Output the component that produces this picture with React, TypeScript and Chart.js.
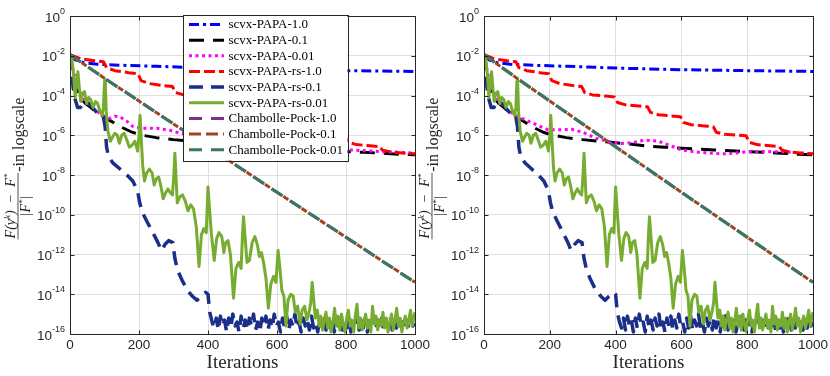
import React, { useEffect, useRef } from 'react';
import { Chart, registerables } from 'chart.js';

Chart.register(...registerables);

// ---------------- axes ----------------
const xMinIter = 0;
const xMaxIter = 1000;
const xTickStep = 200;
const yExponents = [-16, -14, -12, -10, -8, -6, -4, -2, 0];
const xTitle = 'Iterations';
const yTitleTail = '-in logscale';

// ---------------- series labels ----------------
const seriesLabels = [
  'scvx-PAPA-1.0',
  'scvx-PAPA-0.1',
  'scvx-PAPA-0.01',
  'scvx-PAPA-rs-1.0',
  'scvx-PAPA-rs-0.1',
  'scvx-PAPA-rs-0.01',
  'Chambolle-Pock-1.0',
  'Chambolle-Pock-0.1',
  'Chambolle-Pock-0.01',
];

// ---------------- data: [iteration, log10(relative error)] ----------------
const papa1: [number, number][] = [
  [0, -1.95], [15, -2.2], [40, -2.35], [80, -2.43], [150, -2.48], [250, -2.53],
  [400, -2.62], [600, -2.7], [800, -2.75], [1000, -2.79],
];

const papa01: [number, number][] = [
  [0, -1.95], [8, -2.8], [18, -3.6], [30, -4.1], [45, -4.4], [60, -4.6], [80, -4.9],
  [100, -5.1], [120, -5.3], [150, -5.6], [180, -5.85], [210, -6.0], [250, -6.12],
  [300, -6.22], [350, -6.3], [400, -6.38], [450, -6.45], [500, -6.55], [550, -6.6],
  [600, -6.65], [650, -6.7], [700, -6.74], [750, -6.78], [800, -6.82], [850, -6.86],
  [900, -6.9], [950, -6.95], [1000, -6.98],
];

const papa001Left: [number, number][] = [
  [0, -1.95], [10, -2.8], [25, -3.7], [45, -4.3], [70, -4.7], [95, -5.0], [116, -5.15],
  [130, -5.05], [145, -5.07], [165, -5.3], [183, -5.57], [210, -5.65], [252, -5.65],
  [290, -5.75], [319, -5.9], [360, -6.0], [420, -6.1], [480, -6.2], [540, -6.3],
  [600, -6.45], [660, -6.6], [720, -6.7], [812, -6.74], [860, -6.78], [907, -6.83],
  [950, -6.85], [1000, -6.9],
];

const papa001Right: [number, number][] = [
  [0, -1.95], [10, -2.8], [25, -3.7], [45, -4.3], [70, -4.7], [95, -5.0], [115, -5.15],
  [150, -5.4], [195, -5.73], [235, -5.72], [266, -5.7], [300, -5.85], [340, -6.15],
  [378, -6.32], [420, -6.41], [449, -6.38], [490, -6.24], [530, -6.3], [570, -6.55],
  [601, -6.74], [650, -6.85], [722, -6.94], [760, -6.9], [803, -6.83], [850, -6.82],
  [904, -6.83], [950, -6.88], [995, -6.94],
];

const rs1: [number, number][] = [
  [0, -1.95], [30, -2.15], [70, -2.25], [97, -2.3], [106, -2.6], [130, -2.75], [170, -2.85],
  [197, -2.9], [206, -3.25], [230, -3.4], [270, -3.5], [297, -3.55], [306, -3.85],
  [330, -3.97], [370, -4.03], [397, -4.07], [406, -4.35], [430, -4.47], [470, -4.53],
  [497, -4.57], [506, -4.85], [530, -4.97], [570, -5.03], [597, -5.07], [606, -5.35],
  [630, -5.47], [670, -5.53], [697, -5.57], [706, -5.85], [730, -5.95], [770, -6.0],
  [797, -6.03], [806, -6.35], [830, -6.47], [870, -6.53], [897, -6.57], [906, -6.75],
  [930, -6.84], [970, -6.9], [1000, -6.93],
];

const rs01Head: [number, number][] = [
  [0, -1.95], [4, -2.5], [9, -3.6], [15, -4.2], [22, -4.6], [30, -4.6], [38, -4.4],
  [46, -4.3], [55, -4.4], [65, -4.6], [75, -4.8], [87, -5.0], [97, -5.1], [102, -5.6],
  [106, -6.6], [112, -7.1], [125, -7.4], [145, -7.7], [165, -8.0], [182, -8.3],
  [196, -8.8], [202, -9.4], [210, -9.9], [225, -10.4], [240, -10.9], [255, -11.4],
  [265, -11.8], [275, -11.5], [286, -11.3], [298, -11.4], [304, -12.2], [312, -12.8],
  [325, -13.3], [340, -13.8], [355, -14.1], [368, -14.3], [380, -14.1], [393, -13.9],
  [400, -14.0], [405, -14.9], [412, -15.4],
];

const rs01Tail: [number, number][] = [
  [418, -15.7], [424, -15.2], [430, -15.8], [436, -15.1], [442, -15.6], [448, -15.3],
  [454, -15.9], [460, -15.2], [466, -15.7], [472, -15.0], [478, -15.6], [484, -15.4],
  [490, -15.9], [496, -15.1], [502, -15.7], [508, -15.3], [514, -15.8], [520, -15.2],
  [526, -15.6], [532, -15.0], [538, -15.8], [544, -15.4], [550, -15.9], [556, -15.2],
  [562, -15.6], [568, -15.1], [574, -15.8], [580, -15.3], [586, -15.7], [592, -15.0],
  [598, -15.6], [604, -15.4], [610, -15.9], [616, -15.2], [622, -15.7], [628, -15.1],
  [634, -15.8], [640, -15.3], [646, -15.6], [652, -15.0], [658, -15.7], [664, -15.4],
  [670, -15.9], [676, -15.2], [682, -15.6], [688, -15.3], [694, -15.8], [700, -15.1],
  [706, -15.7], [712, -15.4], [718, -15.9], [724, -15.2], [730, -15.6], [736, -15.0],
  [742, -15.8], [748, -15.3], [754, -15.7], [760, -15.2], [766, -15.9], [772, -15.4],
  [778, -15.6], [784, -15.1], [790, -15.8], [796, -15.3], [802, -15.7], [808, -15.2],
  [814, -15.9], [820, -15.4], [826, -15.6], [832, -15.0], [838, -15.8], [844, -15.3],
  [850, -15.7], [856, -15.2], [862, -15.9], [868, -15.4], [874, -15.6], [880, -15.1],
  [886, -15.8], [892, -15.3], [898, -15.7], [904, -15.2], [910, -15.9], [916, -15.4],
  [922, -15.6], [928, -15.1], [934, -15.8], [940, -15.3], [946, -15.7], [952, -15.2],
  [958, -15.6], [964, -15.4], [970, -15.8], [976, -15.3], [982, -15.7], [988, -15.2],
  [994, -15.6], [1000, -15.4],
];

const rs001Head: [number, number][] = [
  [0, -1.95], [6, -2.2], [11, -3.1], [15, -4.1], [19, -3.3], [23, -2.8], [27, -3.6],
  [31, -4.3], [36, -3.9], [42, -3.8], [48, -4.4], [54, -4.1], [60, -4.2], [67, -4.6],
  [74, -4.3], [80, -4.4], [87, -4.8], [93, -5.0], [97, -4.6], [100, -3.3], [102, -3.2],
  [105, -4.8], [110, -5.8], [117, -6.3], [123, -6.1], [130, -5.9], [137, -6.0],
  [143, -6.4], [150, -6.0], [157, -5.9], [164, -6.2], [172, -6.6], [180, -6.5],
  [188, -6.3], [196, -6.8], [200, -6.0], [203, -5.0], [206, -6.0], [211, -7.6],
  [216, -8.3], [222, -7.9], [230, -7.7], [238, -7.9], [244, -8.5], [250, -8.2],
  [257, -8.1], [264, -8.6], [270, -9.2], [277, -8.9], [284, -8.7], [291, -8.9],
  [297, -9.0], [301, -8.0], [304, -6.9], [307, -8.0], [311, -9.4], [318, -9.1],
  [326, -9.0], [334, -9.3], [342, -9.8], [350, -9.5], [358, -9.7], [366, -10.6],
  [374, -12.6], [381, -11.0], [388, -10.7], [395, -10.9], [400, -8.6], [404, -9.6],
  [410, -11.0], [418, -12.3], [425, -11.2], [432, -10.9], [440, -11.1], [446, -11.9],
  [451, -11.4], [458, -11.3], [465, -12.0], [474, -14.2], [481, -12.7], [489, -12.4],
  [496, -12.7], [500, -11.0], [503, -10.1], [507, -11.0], [513, -12.4], [520, -12.3],
  [528, -11.4], [536, -11.1], [543, -11.5], [549, -12.1], [555, -11.9], [561, -12.4],
  [568, -13.2], [575, -14.7], [582, -13.5], [590, -13.1], [597, -13.4], [603, -11.8],
  [608, -12.6], [614, -13.8], [620, -14.1], [626, -15.6], [632, -14.3], [640, -14.0],
  [647, -14.1], [653, -14.9], [660, -14.6], [667, -15.5], [673, -14.8], [680, -14.6],
  [687, -15.3], [693, -14.9], [698, -14.4], [702, -13.4], [706, -14.2], [711, -15.2],
  [717, -14.8],
];

const rs001Tail: [number, number][] = [
  [722, -15.6], [727, -15.1], [732, -15.8], [737, -15.3], [742, -14.9], [747, -15.7],
  [752, -15.2], [757, -15.9], [762, -15.4], [767, -14.7], [772, -15.6], [777, -15.1],
  [782, -15.8], [787, -15.0], [792, -15.5], [797, -15.9], [802, -15.2], [807, -14.8],
  [812, -15.6], [817, -15.3], [822, -15.9], [827, -15.1], [832, -14.5], [837, -15.7],
  [842, -15.2], [847, -15.8], [852, -15.4], [857, -15.0], [862, -15.7], [867, -15.3],
  [872, -15.9], [877, -14.6], [882, -15.5], [887, -15.1], [892, -15.8], [897, -15.3],
  [902, -15.6], [907, -14.9], [912, -15.7], [917, -15.2], [922, -15.9], [927, -15.4],
  [932, -15.0], [937, -15.8], [942, -15.3], [947, -14.7], [952, -15.6], [957, -15.2],
  [962, -15.9], [967, -15.4], [972, -15.1], [977, -15.7], [982, -15.3], [987, -14.8],
  [992, -15.6], [996, -15.2], [1000, -14.9],
];

const chambollePock: [number, number][] = [
  [0, -1.95], [100, -3.13], [200, -4.28], [300, -5.43], [400, -6.58], [500, -7.72],
  [600, -8.87], [700, -10.0], [800, -11.13], [900, -12.27], [1000, -13.4],
];

// ---------------- styles ----------------
const seriesColors = ['#0000ff', '#000000', '#ff00ff', '#ff0000', '#1a2e8a', '#77ac30', '#7e2f8e', '#a0461c', '#3b7a58'];
const seriesWidths = [3, 3, 3, 3, 3.5, 3, 3, 3, 3];
const seriesDashes = [[10, 4, 3, 4], [15, 9], [3, 3.5], [11, 4], [14, 8], [], [13, 9], [6, 16], [13, 9]];
const seriesDashOffsets = [0, 0, 0, 0, 0, 0, 0, 8, 0];
const legendDashes = [[10, 4, 3, 4], [15, 9], [3, 3.5], [11, 4], [14, 8], [], [13, 9], [12, 5], [13, 9]];

const axisColor = '#262626';
const gridColor = '#dfdfdf';
const sansFamily = '"Liberation Sans", Arial, Helvetica, sans-serif';
const serifFamily = '"Liberation Serif", "Times New Roman", serif';

function drawYTickLabels(chart: any) {
  const { ctx, chartArea: a } = chart;
  const y = chart.scales.y;
  const baseFont = `13.5px ${sansFamily}`;
  const expFont = `9px ${sansFamily}`;
  ctx.save();
  ctx.fillStyle = axisColor;
  ctx.textBaseline = 'alphabetic';
  ctx.textAlign = 'left';
  for (const t of y.ticks) {
    const e = Math.round(Math.log10(t.value));
    const py = y.getPixelForValue(t.value);
    const expStr = String(e);
    ctx.font = expFont;
    const ew = ctx.measureText(expStr).width;
    ctx.font = baseFont;
    const bw = ctx.measureText('10').width;
    const right = a.left - 5;
    ctx.font = baseFont;
    ctx.fillText('10', right - ew - bw, py + 5.5);
    ctx.font = expFont;
    ctx.fillText(expStr, right - ew, py - 2);
  }
  ctx.restore();
}

function drawYTitle(chart: any) {
  const { ctx, chartArea: a } = chart;
  const ox = a.left - 70;
  const cy = (a.top + a.bottom) / 2 - 6.5;
  const numFont = `italic 14px ${serifFamily}`;
  const supFont = `italic 9px ${serifFamily}`;
  const textFont = `16px ${serifFamily}`;
  ctx.save();
  ctx.translate(ox, cy);
  ctx.rotate(-Math.PI / 2);
  ctx.fillStyle = axisColor;
  ctx.strokeStyle = axisColor;
  ctx.textBaseline = 'alphabetic';
  ctx.textAlign = 'left';
  const numParts = [
    { t: 'F(y', f: numFont, dy: 0 },
    { t: 'k', f: supFont, dy: -5 },
    { t: ')  \u2212  F', f: numFont, dy: 0 },
    { t: '*', f: supFont, dy: -5 },
  ];
  const denParts = [
    { t: '|F', f: numFont, dy: 0 },
    { t: '*', f: supFont, dy: -5 },
    { t: '|', f: numFont, dy: 0 },
  ];
  const width = (parts: any[]) =>
    parts.reduce((s, p) => {
      ctx.font = p.f;
      return s + ctx.measureText(p.t).width;
    }, 0);
  const numW = width(numParts);
  const denW = width(denParts);
  ctx.font = textFont;
  const tailW = ctx.measureText(yTitleTail).width;
  const fracW = Math.max(numW, denW) + 2;
  const total = fracW + 1 + tailW;
  const x0 = -total / 2;
  const drawParts = (parts: any[], startX: number, base: number) => {
    let x = startX;
    for (const p of parts) {
      ctx.font = p.f;
      ctx.fillText(p.t, x, base + p.dy);
      x += ctx.measureText(p.t).width;
    }
  };
  drawParts(numParts, x0 + (fracW - numW) / 2, 15);
  drawParts(denParts, x0 + (fracW - denW) / 2, 29.5);
  ctx.lineWidth = 0.8;
  ctx.beginPath();
  ctx.moveTo(x0, 18);
  ctx.lineTo(x0 + fracW, 18);
  ctx.stroke();
  ctx.font = textFont;
  ctx.fillText(yTitleTail, x0 + fracW + 1, 23.5);
  ctx.restore();
}

const framePlugin = {
  id: 'matlabFrame',
  afterDraw(chart: any) {
    const { ctx, chartArea: a, scales } = chart;
    ctx.save();
    ctx.strokeStyle = axisColor;
    ctx.lineWidth = 1;
    const l = Math.round(a.left) + 0.5;
    const t = Math.round(a.top) + 0.5;
    const r = Math.round(a.right) + 0.5;
    const b = Math.round(a.bottom) + 0.5;
    ctx.beginPath();
    ctx.rect(l, t, r - l, b - t);
    for (const tk of scales.x.ticks) {
      const px = Math.round(scales.x.getPixelForValue(tk.value)) + 0.5;
      ctx.moveTo(px, b);
      ctx.lineTo(px, b - 4);
      ctx.moveTo(px, t);
      ctx.lineTo(px, t + 4);
    }
    for (const tk of scales.y.ticks) {
      const py = Math.round(scales.y.getPixelForValue(tk.value)) + 0.5;
      ctx.moveTo(l, py);
      ctx.lineTo(l + 4, py);
      ctx.moveTo(r, py);
      ctx.lineTo(r - 4, py);
    }
    ctx.stroke();
    ctx.restore();
    drawYTickLabels(chart);
    drawYTitle(chart);
  },
};

const legendPlugin = {
  id: 'matlabLegend',
  afterDraw(chart: any) {
    const { ctx, chartArea: a } = chart;
    const left = a.left + 113;
    const top = a.top - 1.5;
    const w = 164.5;
    const h = 146;
    ctx.save();
    ctx.fillStyle = '#ffffff';
    ctx.fillRect(left, top, w, h);
    ctx.strokeStyle = axisColor;
    ctx.lineWidth = 1;
    ctx.strokeRect(Math.round(left) + 0.5, Math.round(top) + 0.5, Math.round(w), Math.round(h));
    ctx.font = `13px ${serifFamily}`;
    ctx.textBaseline = 'middle';
    ctx.textAlign = 'left';
    chart.data.datasets.forEach((ds: any, i: number) => {
      const yy = top + 10 + i * 15.65;
      ctx.save();
      ctx.strokeStyle = ds.borderColor;
      ctx.lineWidth = ds.borderWidth;
      ctx.setLineDash(legendDashes[i]);
      ctx.lineDashOffset = 0;
      ctx.beginPath();
      ctx.moveTo(left + 6, yy);
      ctx.lineTo(left + 41, yy);
      ctx.stroke();
      ctx.restore();
      ctx.fillStyle = '#000000';
      ctx.fillText(ds.label, left + 45.5, yy + 0.5);
    });
    ctx.restore();
  },
};

function buildConfig(isLeft: boolean): any {
  const seriesData = [
    papa1,
    papa01,
    isLeft ? papa001Left : papa001Right,
    rs1,
    [...rs01Head, ...rs01Tail],
    [...rs001Head, ...rs001Tail],
    chambollePock,
    chambollePock,
    chambollePock,
  ];
  const datasets = seriesData.map((pts, i) => ({
    label: seriesLabels[i],
    data: pts.map(([x, e]) => ({ x, y: Math.pow(10, e) })),
    borderColor: seriesColors[i],
    backgroundColor: seriesColors[i],
    borderWidth: seriesWidths[i],
    borderDash: seriesDashes[i],
    borderDashOffset: seriesDashOffsets[i],
    borderJoinStyle: 'round',
    borderCapStyle: 'butt',
    pointRadius: 0,
    pointHoverRadius: 0,
    fill: false,
    tension: 0,
    order: seriesLabels.length - i,
  }));
  return {
    type: 'line',
    data: { datasets },
    options: {
      animation: false,
      responsive: false,
      devicePixelRatio: 1,
      events: [],
      layout: {
        padding: isLeft
          ? { top: 16, left: 0, right: 415, bottom: 0 }
          : { top: 16, left: 414, right: 17, bottom: 0 },
      },
      plugins: {
        legend: { display: false },
        tooltip: { enabled: false },
      },
      scales: {
        x: {
          type: 'linear',
          min: xMinIter,
          max: xMaxIter,
          ticks: {
            stepSize: xTickStep,
            font: { family: sansFamily, size: 13.5 },
            color: axisColor,
            padding: 3,
            maxRotation: 0,
            autoSkip: false,
            callback: (v: any) => String(v),
          },
          grid: { color: gridColor, drawTicks: false, lineWidth: 1 },
          border: { display: false },
          title: {
            display: true,
            text: xTitle,
            font: { family: serifFamily, size: 19 },
            color: axisColor,
            padding: { top: 0, bottom: 2 },
          },
          afterFit: (s: any) => {
            s.height = 42;
            s.paddingLeft = 0;
            s.paddingRight = 0;
          },
        },
        y: {
          type: 'logarithmic',
          min: Math.pow(10, yExponents[0]),
          max: Math.pow(10, yExponents[yExponents.length - 1]),
          afterBuildTicks: (s: any) => {
            s.ticks = yExponents.map((e) => ({ value: Math.pow(10, e) }));
          },
          ticks: { display: false },
          grid: { color: gridColor, drawTicks: false, lineWidth: 1 },
          border: { display: false },
          afterFit: (s: any) => {
            s.width = 70;
            s.paddingTop = 0;
            s.paddingBottom = 0;
          },
        },
      },
    },
    plugins: isLeft ? [framePlugin, legendPlugin] : [framePlugin],
  };
}

export default function App() {
  const leftRef = useRef<HTMLCanvasElement>(null);
  const rightRef = useRef<HTMLCanvasElement>(null);
  useEffect(() => {
    const c1 = new Chart(leftRef.current as HTMLCanvasElement, buildConfig(true));
    const c2 = new Chart(rightRef.current as HTMLCanvasElement, buildConfig(false));
    return () => {
      c1.destroy();
      c2.destroy();
    };
  }, []);
  const canvasStyle: React.CSSProperties = { position: 'absolute', left: 0, top: 0, width: 830, height: 376 };
  return (
    <div style={{ position: 'absolute', left: 0, top: 0, width: 830, height: 376, background: '#ffffff' }}>
      <canvas ref={leftRef} width={830} height={376} style={canvasStyle} />
      <canvas ref={rightRef} width={830} height={376} style={canvasStyle} />
    </div>
  );
}
